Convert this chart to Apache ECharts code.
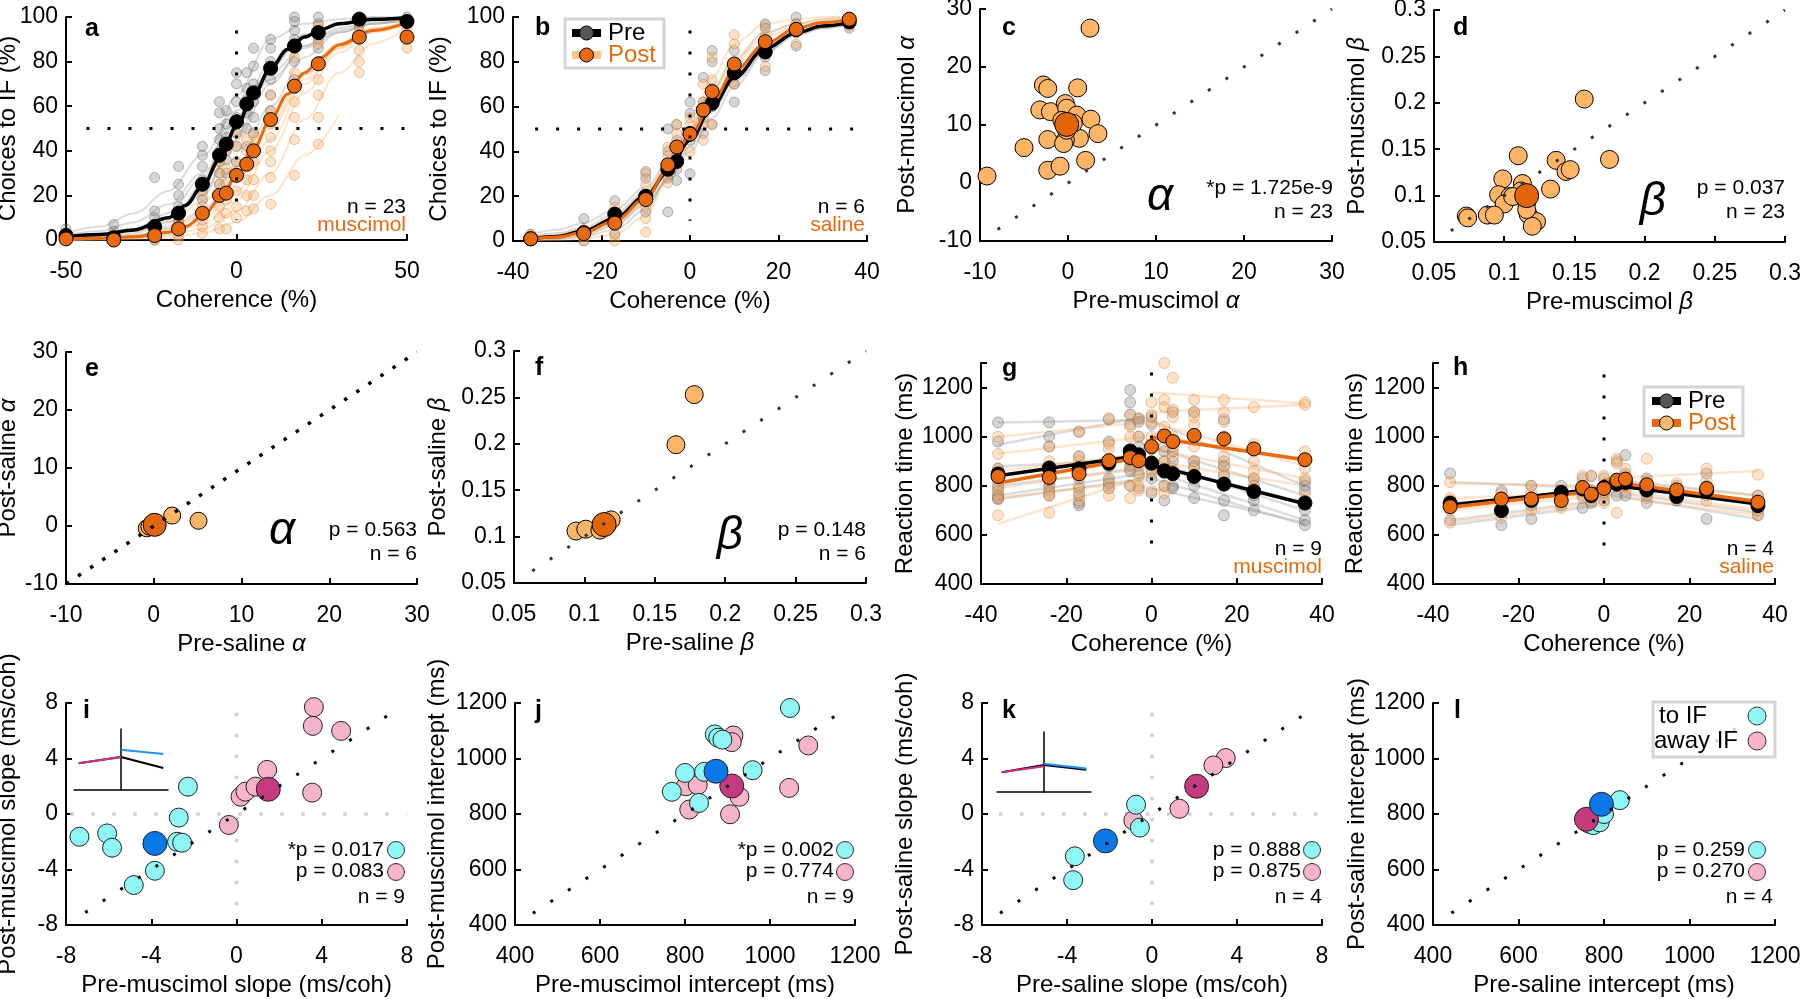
<!DOCTYPE html>
<html><head><meta charset="utf-8">
<script src="https://cdn.jsdelivr.net/npm/echarts@6/dist/echarts.min.js"></script>
<style>html,body{margin:0;padding:0;background:#fff}#c{width:1800px;height:999px}</style>
</head><body><div id="c"></div>
<script>
const FONT = '"Liberation Sans", Arial, Helvetica, sans-serif';

// ---------- panel a : muscimol psychometric ----------
const cohA = [-50,-36,-24,-17,-10,-5,-3,0,3,5,10,17,24,36,50];
const preMeanA = [2,1,6,12,25,38,43,53,61,66,77,87,93,99,98];
const postMeanA = [0.5,0,2,5,12,20,21,29,34,40,54,69,79,91,91];
const preIndA = [[0,1,2,3,5],[0,1,2,4,7],[0,2,4,7,10,13,28],[5,8,12,15,20,25,33],[12,18,22,27,33,38,42],
  [25,30,35,40,45,50,57,62],[30,36,40,46,52,58],[35,42,48,55,62,70,75],[42,50,57,63,68,75],[48,55,62,70,78,86],
  [58,65,72,80,86,90],[72,80,86,90,94,98,100],[86,90,94,97,100],[96,98,100],[97,99,100]];
const postIndA = [[0,0.5,1,2],[0,0.5,1,2],[0,1,2,4,5],[0,2,4,6,8,10],[3,6,9,12,15,20],[5,10,15,20,25,30,35],
  [5,12,18,25,32,40],[10,15,22,28,35,42,48],[13,20,27,33,40,45],[14,20,27,35,42,47],[16,28,35,40,46,52,58,65],
  [29,45,55,62,68,75,82,88],[43,55,65,72,80,88,93,96],[75,80,85,90,94,97],[86,92,95,97]];
const fitXA = [-50,-40,-30,-20,-10,0,10,20,30,40,50];
const preFadeA = [[3,6,12,22,38,58,75,87,94,97,99],[1,2,4,9,22,45,70,87,95,98,99.5],[0.5,1,3,8,20,47,77,92,97,99,100],
  [0.5,1,2,5,13,33,60,82,93,97,99],[2,4,8,16,30,52,72,86,93,97,98.5],[0.2,0.5,1.5,6,25,65,90,97,99,100,100],
  [1,2,5,12,28,55,79,92,97,99,100]];
const postFadeA = [[0.5,1,2,5,12,28,52,74,88,95,98],[0.2,0.5,1,2.5,7,18,40,66,84,93,97],[0.1,0.3,0.8,2,5,13,30,54,75,88,95],
  [0.1,0.2,0.5,1,3,8,20,38,56,null,null],[1,2,4,8,17,33,55,75,88,95,98],[0.3,0.6,1.5,4,11,27,50,72,86,94,97],
  [0.2,0.4,1,3,9,22,45,70,86,94,98]];
const fitXA2 = [-50,-40,-30,-20,-15,-10,-5,0,5,10,15,20,25,30,40,50];
const preFitA = [1.5,2.5,4.5,10,15.5,24,36,51,65,77,85.5,91,94.5,97,99,99.7];
const postFitA = [0.5,0.8,1.5,3.5,6,10.5,18,28.5,41,54,65.5,75,82,87.5,94,97.5];

// ---------- panel b : saline psychometric ----------
const cohB = [-36,-24,-17,-10,-5,-3,0,3,5,10,17,24,36];
const preMeanB = [1,3.7,12,20,32,35.5,48,58.5,61.5,75,84.4,94.4,97.8];
const postMeanB = [1,3.3,8,18.5,34,42,47.7,58.5,66.7,79,89,94.5,99];
const preIndB = [[0,1,3],[0,2,5,10],[3,8,12,18],[13,20,28,31],[13,28,33,40,50],[27,32,38,45,52],[30,45,57,62],
  [48,55,62,73],[52,60,68,80,85],[62,70,78,85],[76,82,88,95,97],[87,93,97,100],[95,97,99,100]];
const postIndB = [[0,1,3],[0,2,5],[0,3,8,15],[4,10,15,25,30],[26,30,38,42],[35,42,48,52],[40,47,52,55],
  [45,52,62,70],[52,62,72,82],[70,80,88,92],[78,85,92,96],[88,93,97],[96,98,100]];
const fitXB = [-36,-30,-24,-17,-10,-5,0,5,10,17,24,30,36];
const preFitB = [1,2,4.5,10,20,31,45,60,73,86,93,96,97.5];
const postFitB = [1,1.8,3.8,9,19,32,47,62,76,88,95,97.5,98.8];
const preFadeB = [[2,3.5,6,12,22,33,46,59,71,84,92,95,97],[0.5,1,2.5,7,16,27,42,58,73,88,95,98,99],
  [3,5,8,14,24,35,49,63,74,85,92,95,97],[1,2,3.5,8,17,27,40,55,69,84,93,96,98],[0.3,0.8,2,5,14,28,48,67,81,93,97,99,99.5]];
const postFadeB = [[1,2,4,10,21,35,51,67,80,91,96,98,99],[0.5,1,2.5,7,17,31,50,68,82,93,97,99,100],
  [2,3,5.5,11,21,32,46,61,73,86,93,96,98],[0.2,0.4,1,3,11,27,50,73,88,97,99,100,100]];

// ---------- panels c-f : alpha / beta scatter ----------
const preAlphaC = [-9.2,2.5,-2.8,-2.3,1.1,-3.2,-2.0,-0.3,-0.15,1.0,2.6,3.4,1.3,-2.3,-0.3,-0.5,-5.0,2.0,-2.3,-0.9,0.6,-0.15,-0.7];
const postAlphaC = [1.2,26.7,16.9,16.3,16.4,12.6,12.3,13.7,12.9,11.7,11.0,8.5,7.7,7.5,7.4,6.8,6.1,3.9,2.2,2.9,10.3,9.1,10.8];
const meanAlphaC = [-0.15,10.1];
const preBetaD = [0.157,0.110,0.137,0.144,0.147,0.175,0.099,0.113,0.133,0.096,0.104,0.100,0.116,0.117,0.088,0.093,0.073,0.074,0.123,0.120,0.116,0.112,0.106];
const postBetaD = [0.204,0.143,0.138,0.126,0.128,0.139,0.118,0.113,0.107,0.101,0.099,0.091,0.093,0.080,0.079,0.079,0.078,0.076,0.072,0.067,0.085,0.105,0.099];
const meanBetaD = [0.116,0.100];
const preAlphaE = [2.1,5.1,-0.8,0.4,-0.5,0.2];
const postAlphaE = [1.8,0.9,-0.4,0.3,-0.1,0.0];
const meanAlphaE = [0.1,0.2];
const preBetaF = [0.178,0.165,0.094,0.101,0.111,0.119];
const postBetaF = [0.253,0.199,0.106,0.108,0.107,0.118];
const meanBetaF = [0.114,0.113];

// ---------- panels g-h : reaction time ----------
const cohG = [-36,-24,-17,-10,-5,-3,0,3,5,10,17,24,36];
const preMeanG = [848,872,869,892,942,926,892,861,849,838,807,777,730];
const postMeanG = [838,834,849,902,915,902,960,1003,980,1005,991,950,906];
const preIndG = [[1058,980,870,830,800,780,760,750,745],[1058,1000,960,880,820,800,780,760],[1020,920,880,830,790,760,730,720],
  [1070,980,900,880,830,810,790],[1190,1140,1090,1050,920,900,880,860,800],[1075,1060,1000,960,920,850,790],
  [1080,1050,950,900,860,830,770],[1000,940,900,850,800,740],[1100,940,900,860,800,790],[1100,900,880,840,800,750],
  [1070,900,880,840,800,740,680],[830,800,780,760,740,700],[900,820,800,780,700,660,640]];
const postIndG = [[1000,930,870,850,820,790,760,750,680],[960,900,870,840,800,770,760,690],[1020,920,900,850,800,770,740],
  [1075,970,950,880,820,790,760],[1090,1040,1000,930,870,800,750],[1070,1000,880,840,800,780],
  [1140,1090,1060,1000,950,900,850,780],[1300,1150,1120,1040,1000,960,900,800,770],[1240,1110,1080,1000,960,920,870,850],
  [1150,1100,1080,1050,1000,960,900,870],[1150,1100,1060,1000,920,880,850],[1120,970,950,900,860,830,800],
  [1140,1130,940,900,870,830,760]];
const fitXLeft = [-36,-1.5];
const fitXRight = [0,36];
const preFitLeftG = [841,926], preFitRightG = [885,727];
const postFitLeftG = [811,919], postFitRightG = [998,906];
const preFadeLeftG = [[1058,1068],[967,1082],[880,905],[800,870],[760,850],[745,830]];
const preFadeRightG = [[1065,800],[960,760],[900,700],[860,660],[830,640],[790,650]];
const postFadeLeftG = [[1000,1060],[930,1000],[860,930],[790,880],[750,820],[645,838]];
const postFadeRightG = [[1180,1135],[1100,1130],[1060,880],[1010,900],[950,830],[900,800]];

const preMeanH = [729,699,740,773,787,760,793,807,813,783,756,780,719];
const postMeanH = [715,746,746,740,793,766,789,823,827,804,783,789,733];
const preIndH = [[850,740,720,660],[780,740,700,640],[800,740,720,665],[800,770,750,720],[830,790,760,710],[840,780,750,730],
  [830,800,770,740],[900,820,800,760],[925,850,800,760],[830,800,760,730],[800,770,750,740],[850,800,760,665],[760,730,700,680]];
const postIndH = [[815,750,700,650],[770,750,720,670],[800,770,740,700],[780,760,730,710],[840,800,780,750],[840,780,760,740],
  [840,800,760,730],[910,890,820,690],[870,840,800,780],[910,820,780,750],[810,790,770,750],[870,820,780,740],[845,760,700,680]];
const preFitLeftH = [722,787], preFitRightH = [807,726];
const postFitLeftH = [713,780], postFitRightH = [820,736];
const preFadeLeftH = [[815,790],[730,770],[660,740],[640,720]];
const preFadeRightH = [[830,760],[800,740],[780,690],[770,665]];
const postFadeLeftH = [[810,800],[750,770],[700,760],[650,730]];
const postFadeRightH = [[830,860],[820,760],[790,700],[760,680]];

// ---------- panels i-l : slope / intercept ----------
const preToI = [-7.37,-6.07,-5.84,-2.28,-2.71,-2.79,-2.55,-3.83,-4.82];
const postToI = [-1.64,-1.40,-2.43,1.97,-0.26,-2.0,-2.07,-4.09,-5.12];
const meanToI = [-3.83,-2.12];
const preAwayI = [3.63,3.58,4.91,1.44,3.55,0.19,0.42,0.89,-0.36];
const postAwayI = [7.70,6.35,5.99,3.18,1.54,1.25,1.61,1.97,-0.79];
const meanAwayI = [1.49,1.78];
const preToJ = [1047,870,878,888,800,845,959,769,833];
const postToJ = [1182,1087,1075,1068,948,952,958,880,840];
const meanToJ = [873,954];
const preAwayJ = [914,910,1090,1045,802,830,928,810,906];
const postAwayJ = [1083,1059,1047,894,900,904,862,816,799];
const meanAwayJ = [910,901];
const preToK = [-0.75,-0.57,-3.63,-3.71];
const postToK = [0.67,-0.98,-3.05,-4.77];
const meanToK = [-2.19,-1.94];
const preAwayK = [3.47,2.89,1.29,-0.88];
const postAwayK = [4.03,3.5,0.38,-0.46];
const meanAwayK = [2.1,2.0];
const preToL = [837,775,790,800];
const postToL = [850,760,770,800];
const meanToL = [794,835];
const preAwayL = [783,758,765,790];
const postAwayL = [778,772,765,790];
const meanAwayL = [759,781];

// insets (schematic)
const insetIPink = [[-0.9,0.44],[0,0.54]];
const insetIBlack = [[-0.9,0.44],[0,0.54],[0.9,0.36]];
const insetIBlue = [[0,0.66],[0.9,0.59]];
const insetKPink = [[-0.9,0.33],[0,0.43]];
const insetKBlack = [[-0.9,0.33],[0,0.45],[0.9,0.37]];
const insetKBlue = [[0,0.47],[0.9,0.39]];

// reference lines
const refA = {h:[[-44,50],[50,50]], v:[[0,94],[0,9]]};
const refB = {h:[[-35,50],[37,50]], v:[[0,94],[0,9]]};
const refG = [[0,1261],[0,492]];
const refH = [[0,1253],[0,491]];

// ---------------- build ----------------
const OR = '#E8690E', LOR = '#FFB566', CY = '#8EF6F4', PK = '#F7B3C8', BL = '#0A78E6', MG = '#C43B80';
const GRID = [
 [66,17,341,223],[513,17,354,224],[980,9,352,232],[1434,10,351,232],
 [66,352,351,232],[514,351,352,232],[981,363,341,221],[1433,363,342,221],
 [66,703,341,222],[515,703,340,222],[982,703,340,222],[1433,703,342,222],
 [74,729,94,61],[997,732,94,60]
];
const betaFmt = v => String(Math.round(v*100)/100);
const rtFmt = v => v > 1250 ? '' : String(v);
const P = [
 {x:[-50,50,50,'Coherence (%)'], y:[0,100,20,'Choices to IF (%)'], yg:46},
 {x:[-40,40,20,'Coherence (%)'], y:[0,100,20,'Choices to IF (%)'], yg:62},
 {x:[-10,30,10,'Pre-muscimol {g|α}'], y:[-10,30,10,'Post-muscimol {g|α}'], yg:61},
 {x:[0.05,0.3,0.05,'Pre-muscimol {g|β}'], y:[0.05,0.3,0.05,'Post-muscimol {g|β}'], yg:65, fx:betaFmt, fy:betaFmt},
 {x:[-10,30,10,'Pre-saline {g|α}'], y:[-10,30,10,'Post-saline {g|α}'], yg:46},
 {x:[0.05,0.3,0.05,'Pre-saline {g|β}'], y:[0.05,0.3,0.05,'Post-saline {g|β}'], yg:64, fx:betaFmt, fy:betaFmt},
 {x:[-40,40,20,'Coherence (%)'], y:[400,1300,200,'Reaction time (ms)'], yg:64, fy:rtFmt},
 {x:[-40,40,20,'Coherence (%)'], y:[400,1300,200,'Reaction time (ms)'], yg:66, fy:rtFmt},
 {x:[-8,8,4,'Pre-muscimol slope (ms/coh)'], y:[-8,8,4,'Post-muscimol slope (ms/coh)'], yg:46},
 {x:[400,1200,200,'Pre-muscimol intercept (ms)'], y:[400,1200,200,'Post-muscimol intercept (ms)'], yg:66},
 {x:[-8,8,4,'Pre-saline slope (ms/coh)'], y:[-8,8,4,'Post-saline slope (ms/coh)'], yg:65},
 {x:[400,1200,200,'Pre-saline intercept (ms)'], y:[400,1200,200,'Post-saline intercept (ms)'], yg:64}
];
const grids = GRID.map(g => ({left:g[0], top:g[1], width:g[2], height:g[3], containLabel:false, outerBoundsMode:'none'}));
function mkAxis(gi, spec, gap, fmt, isY) {
  return {type:'value', gridIndex:gi, min:spec[0], max:spec[1], interval:spec[2],
    name:spec[3], nameLocation:'middle', nameGap:gap, nameMoveOverlap:false,
    nameTextStyle:{fontFamily:FONT, fontSize:24, color:'#000', rich:{g:{fontFamily:FONT, fontSize:24, fontStyle:'italic', color:'#000'}}},
    axisLine:{show:true, onZero:false, lineStyle:{color:'#000', width:2}},
    axisTick:{show:true, inside:true, length:6, lineStyle:{color:'#000', width:2}},
    axisLabel:{fontFamily:FONT, fontSize:23, color:'#000', margin: isY ? 8 : 20, showMinLabel:true, showMaxLabel:true, hideOverlap:false, formatter: fmt || (v => String(v))},
    splitLine:{show:false}};
}
const xAxes = [], yAxes = [];
P.forEach((p, i) => { xAxes.push(mkAxis(i, p.x, 48, p.fx, false)); yAxes.push(mkAxis(i, p.y, p.yg, p.fy, true)); });
[12,13].forEach(gi => {
  xAxes.push({type:'value', gridIndex:gi, min:-1, max:1, axisLine:{show:true, onZero:false, lineStyle:{color:'#000', width:1.5}}, axisTick:{show:false}, axisLabel:{show:false}, splitLine:{show:false}});
  yAxes.push({type:'value', gridIndex:gi, min:0, max:1, axisLine:{show:true, onZero:true, lineStyle:{color:'#000', width:1.5}}, axisTick:{show:false}, axisLabel:{show:false}, splitLine:{show:false}});
});

const series = [];
function line(g, data, color, width, z, extra) {
  series.push(Object.assign({type:'line', xAxisIndex:g, yAxisIndex:g, data, symbol:'none', silent:true, z,
    lineStyle:{color, width}, connectNulls:false}, extra || {}));
}
function scat(g, data, size, color, border, bw, z) {
  series.push({type:'scatter', xAxisIndex:g, yAxisIndex:g, data, symbolSize:size, silent:true, z,
    itemStyle:{color, borderColor:border, borderWidth:bw, opacity:1}});
}
function dots(g, data, color, w, dash) {
  series.push({type:'line', xAxisIndex:g, yAxisIndex:g, data, symbol:'none', silent:true, z:10,
    lineStyle:{color, width:w, type:dash, cap:'butt'}});
}
const pairs = (xs, ys) => xs.map((x, i) => [x, ys[i]]);
const flat = (xs, arr) => xs.flatMap((x, i) => arr[i].map(v => [x, v]));
const GREYF = 'rgba(150,150,150,0.33)', ORF = 'rgba(253,180,110,0.36)';
const GREYP = 'rgba(120,120,120,0.3)', GREYPB = 'rgba(60,60,60,0.35)';
const ORP = 'rgba(253,176,100,0.35)', ORPB = 'rgba(200,120,50,0.4)';
const SMOOTH = {smooth:0.35, smoothMonotone:'x'};

// panel a
preFadeA.forEach(c => line(0, pairs(fitXA, c), GREYF, 2, 1, SMOOTH));
postFadeA.forEach(c => line(0, pairs(fitXA, c), ORF, 2, 1, SMOOTH));
scat(0, flat(cohA, preIndA), 10, GREYP, GREYPB, 1, 2);
scat(0, flat(cohA, postIndA), 10, ORP, ORPB, 1, 2);
line(0, pairs(fitXA2, preFitA), '#000', 3.5, 3, SMOOTH);
line(0, pairs(fitXA2, postFitA), OR, 3, 3, SMOOTH);
scat(0, pairs(cohA, preMeanA), 14, '#000', '#000', 1, 4);
scat(0, pairs(cohA, postMeanA), 14, OR, '#000', 1, 5);
dots(0, refA.h, '#000', 3, [3,18]); dots(0, refA.v, '#000', 3, [3,18]);

// panel b
preFadeB.forEach(c => line(1, pairs(fitXB, c), GREYF, 2, 1, SMOOTH));
postFadeB.forEach(c => line(1, pairs(fitXB, c), ORF, 2, 1, SMOOTH));
scat(1, flat(cohB, preIndB), 10, GREYP, GREYPB, 1, 2);
scat(1, flat(cohB, postIndB), 10, ORP, ORPB, 1, 2);
line(1, pairs(fitXB, preFitB), '#000', 3.5, 3, SMOOTH);
line(1, pairs(fitXB, postFitB), OR, 3, 3, SMOOTH);
scat(1, pairs(cohB, preMeanB), 14, '#000', '#000', 1, 4);
scat(1, pairs(cohB, postMeanB), 14, OR, '#000', 1, 5);
dots(1, refB.h, '#000', 3, [3,18]); dots(1, refB.v, '#000', 3, [3,18]);

// panels c-f
scat(2, pairs(preAlphaC, postAlphaC), 18, LOR, '#000', 1, 3);
scat(2, [meanAlphaC], 24, '#E2650A', '#000', 1, 4);
dots(2, [[-8,-8],[30,30]], '#333', 3, [3,18]);
scat(3, pairs(preBetaD, postBetaD), 18, LOR, '#000', 1, 3);
scat(3, [meanBetaD], 24, '#E2650A', '#000', 1, 4);
dots(3, [[0.062,0.062],[0.3,0.3]], '#333', 3, [3,18]);
scat(4, pairs(preAlphaE, postAlphaE), 17, LOR, '#000', 1, 3);
scat(4, [meanAlphaE], 23, '#E2650A', '#000', 1, 4);
dots(4, [[-10,-10],[30,30]], '#000', 3.5, [3.5,11]);
scat(5, pairs(preBetaF, postBetaF), 18, LOR, '#000', 1, 3);
scat(5, [meanBetaF], 24, '#E2650A', '#000', 1, 4);
dots(5, [[0.063,0.063],[0.3,0.3]], '#333', 3, [3,18]);

// panel g
preFadeLeftG.forEach(s => line(6, pairs(fitXLeft, s), GREYF, 2.5, 1));
preFadeRightG.forEach(s => line(6, pairs(fitXRight, s), GREYF, 2.5, 1));
postFadeLeftG.forEach(s => line(6, pairs(fitXLeft, s), ORF, 2.5, 1));
postFadeRightG.forEach(s => line(6, pairs(fitXRight, s), ORF, 2.5, 1));
scat(6, flat(cohG, preIndG), 11, GREYP, GREYPB, 1, 2);
scat(6, flat(cohG, postIndG), 11, ORP, ORPB, 1, 2);
line(6, pairs(fitXLeft, preFitLeftG), '#000', 3.5, 3); line(6, pairs(fitXRight, preFitRightG), '#000', 3.5, 3);
line(6, pairs(fitXLeft, postFitLeftG), OR, 3.5, 3); line(6, pairs(fitXRight, postFitRightG), OR, 3.5, 3);
scat(6, pairs(cohG, preMeanG), 14, '#000', '#000', 1, 4);
scat(6, pairs(cohG, postMeanG), 14, OR, '#000', 1, 5);
dots(6, refG, '#000', 3, [3,18]);

// panel h
preFadeLeftH.forEach(s => line(7, pairs(fitXLeft, s), GREYF, 2.5, 1));
preFadeRightH.forEach(s => line(7, pairs(fitXRight, s), GREYF, 2.5, 1));
postFadeLeftH.forEach(s => line(7, pairs(fitXLeft, s), ORF, 2.5, 1));
postFadeRightH.forEach(s => line(7, pairs(fitXRight, s), ORF, 2.5, 1));
scat(7, flat(cohG, preIndH), 11, GREYP, GREYPB, 1, 2);
scat(7, flat(cohG, postIndH), 11, ORP, ORPB, 1, 2);
line(7, pairs(fitXLeft, preFitLeftH), '#000', 3.5, 3); line(7, pairs(fitXRight, preFitRightH), '#000', 3.5, 3);
line(7, pairs(fitXLeft, postFitLeftH), OR, 3.5, 3); line(7, pairs(fitXRight, postFitRightH), OR, 3.5, 3);
scat(7, pairs(cohG, preMeanH), 14, '#000', '#000', 1, 4);
scat(7, pairs(cohG, postMeanH), 14, OR, '#000', 1, 5);
dots(7, refH, '#000', 3, [3,18]);

// panels i-l
function slopePanel(g, preT, postT, mT, preA, postA, mA, diag, zeroV, zeroH) {
  if (zeroV) { dots(g, zeroV, '#cfcfcf', 3.5, [3.5,17.5]); dots(g, zeroH, '#cfcfcf', 3.5, [3.5,17.5]); series[series.length-1].z = 1; series[series.length-2].z = 1; }
  scat(g, pairs(preA, postA), 19, PK, '#222', 1, 3);
  scat(g, pairs(preT, postT), 19, CY, '#222', 1, 3);
  scat(g, [mA], 24, MG, '#222', 1, 4);
  scat(g, [mT], 24, BL, '#222', 1, 4);
  dots(g, diag, '#000', 3, [3,18]);
}
slopePanel(8, preToI, postToI, meanToI, preAwayI, postAwayI, meanAwayI, [[-7.1,-7.1],[7.7,7.7]], [[0,7.3],[0,-7.8]], [[-7.8,0],[8,0]]);
slopePanel(9, preToJ, postToJ, meanToJ, preAwayJ, postAwayJ, meanAwayJ, [[442,442],[1183,1183]]);
slopePanel(10, preToK, postToK, meanToK, preAwayK, postAwayK, meanAwayK, [[-7.15,-7.15],[7.7,7.7]], [[0,7.3],[0,-7.6]], [[-7.2,0],[8,0]]);
slopePanel(11, preToL, postToL, meanToL, preAwayL, postAwayL, meanAwayL, [[443,443],[1180,1180]]);

// insets
line(12, insetIBlack, '#000', 2, 5); line(12, insetIPink, '#D0307F', 2, 6); line(12, insetIBlue, '#1E90FF', 2, 6);
line(13, insetKBlack, '#000', 2, 5); line(13, insetKPink, '#D0307F', 2, 6); line(13, insetKBlue, '#1E90FF', 2, 6);

// ---------------- texts & legends ----------------
const gfx = [];
function txt(x, y, text, o) {
  const st = Object.assign({text, font:'21px ' + FONT, fill:'#000', align:'right', verticalAlign:'middle'}, o || {});
  st.textAlign = st.align; st.textVerticalAlign = st.verticalAlign;
  gfx.push({type:'text', x, y, z:100, silent:true, style:st});
}
const BOLD = 'bold 25px ' + FONT;
[['a',85,29],['b',535,28],['c',1002,28],['d',1453,28],['e',85,369],['f',535,368],['g',1002,369],['h',1453,368],
 ['i',83,711],['j',535,711],['k',1002,711],['l',1454,711]].forEach(l => txt(l[1], l[2], l[0], {font:BOLD, align:'left'}));
txt(406, 207, 'n = 23'); txt(406, 225, 'muscimol', {fill:OR});
txt(865, 207, 'n = 6'); txt(865, 225, 'saline', {fill:OR});
txt(1333, 188, '*p = 1.725e-9'); txt(1333, 212, 'n = 23');
txt(1160, 197, 'α', {font:'italic 46px ' + FONT, align:'center'});
txt(1785, 188, 'p = 0.037'); txt(1785, 212, 'n = 23');
txt(1653, 202, 'β', {font:'italic 46px ' + FONT, align:'center'});
txt(282, 531, 'α', {font:'italic 46px ' + FONT, align:'center'});
txt(417, 530, 'p = 0.563'); txt(417, 554, 'n = 6');
txt(730, 536, 'β', {font:'italic 46px ' + FONT, align:'center'});
txt(866, 530, 'p = 0.148'); txt(866, 554, 'n = 6');
txt(1322, 549, 'n = 9'); txt(1322, 567, 'muscimol', {fill:OR});
txt(1774, 549, 'n = 4'); txt(1774, 567, 'saline', {fill:OR});
function pLeg(xr, cx, t1, t2, n, nx) {
  txt(xr, 850, t1); txt(xr, 871, t2); txt(nx, 897, n);
  gfx.push({type:'circle', z:100, silent:true, shape:{cx, cy:850, r:8.5}, style:{fill:CY, stroke:'#333', lineWidth:1}});
  gfx.push({type:'circle', z:100, silent:true, shape:{cx, cy:872, r:8.5}, style:{fill:PK, stroke:'#333', lineWidth:1}});
}
pLeg(384, 396, '*p = 0.017', 'p = 0.083', 'n = 9', 405);
pLeg(834, 845, '*p = 0.002', 'p = 0.774', 'n = 9', 854);
pLeg(1301, 1312, 'p = 0.888', 'p = 0.875', 'n = 4', 1322);
pLeg(1745, 1757, 'p = 0.259', 'p = 0.270', 'n = 4', 1773);

function box(x, y, w, h, fill) { gfx.push({type:'rect', z:90, silent:true, shape:{x, y, width:w, height:h}, style:{fill, stroke:'#d4d4d4', lineWidth:3}}); }
function legRow(x1, y, barC, dotC, label, labC) {
  gfx.push({type:'line', z:91, silent:true, shape:{x1, y1:y, x2:x1+29, y2:y}, style:{stroke:barC, lineWidth:8}});
  gfx.push({type:'circle', z:92, silent:true, shape:{cx:x1+14.5, cy:y, r:7}, style:{fill:dotC, stroke:'#000', lineWidth:1}});
  txt(x1+36, y, label, {font:'24px ' + FONT, align:'left', fill:labC});
}
box(565, 19, 99, 49, '#fff');
legRow(572, 33, '#000', '#555', 'Pre', '#000');
legRow(572, 55, '#FDC48A', OR, 'Post', OR);
box(1644, 387, 99, 49, '#fff');
legRow(1652, 401, '#000', '#555', 'Pre', '#000');
legRow(1652, 423, OR, '#FDB96A', 'Post', OR);
box(1653, 702, 122, 55, 'rgba(255,255,255,0.82)');
txt(1659, 716, 'to IF', {font:'24px ' + FONT, align:'left'});
txt(1654, 741, 'away IF', {font:'24px ' + FONT, align:'left'});
gfx.push({type:'circle', z:100, silent:true, shape:{cx:1757, cy:716, r:9}, style:{fill:CY, stroke:'#333', lineWidth:1}});
gfx.push({type:'circle', z:100, silent:true, shape:{cx:1757, cy:741, r:9}, style:{fill:PK, stroke:'#333', lineWidth:1}});

const chart = echarts.init(document.getElementById('c'), null, {renderer:'canvas', width:1800, height:999});
chart.setOption({
  backgroundColor:'#fff', animation:false, tooltip:{show:false},
  grid:grids, xAxis:xAxes, yAxis:yAxes, series, graphic:gfx
});
</script></body></html>
